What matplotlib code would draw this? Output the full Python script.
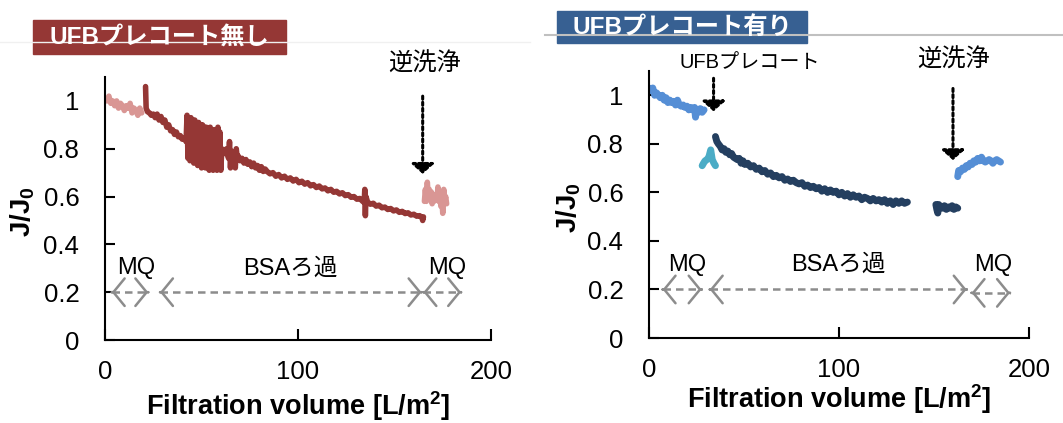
import matplotlib
matplotlib.use("Agg")
import matplotlib.pyplot as plt
from matplotlib.patches import Rectangle
from matplotlib.lines import Line2D

plt.rcParams['font.family'] = ['Liberation Sans', 'Noto Sans CJK JP']
plt.rcParams['mathtext.fontset'] = 'custom'
plt.rcParams['mathtext.rm'] = 'Liberation Sans'
plt.rcParams['mathtext.bf'] = 'Liberation Sans:bold'

# ---- data: left panel (no UFB precoat) ----
L_mq1_x = [0, 1, 2, 3, 4, 5, 6, 7, 8, 9, 10, 11, 12, 13, 14, 15, 16, 17, 18, 19]
L_mq1_y = [1.01, 1.00, 1.02, 0.99, 1.00, 0.98, 1.00, 0.97, 0.99, 0.98,
           0.96, 0.98, 0.97, 0.99, 0.95, 0.97, 0.96, 0.94, 0.97, 0.95]

L_bsa_x = [21.0, 21.3, 22, 23, 24, 25, 26, 27, 28, 29, 30, 31, 32, 33, 34, 35, 36, 37, 38, 39, 40, 41, 42,
           42.5, 43, 43.5, 44, 44.5, 45, 45.5, 46, 46.5, 47, 47.5, 48, 48.5, 49, 49.5, 50, 50.5, 51,
           51.5, 52, 52.5, 53, 53.5, 54, 54.5, 55, 55.5, 56, 56.5, 57, 57.5, 58, 58.5, 59, 59.5, 60, 60.5,
           61, 62, 63, 64, 64.5, 65, 65.5, 66, 67, 67.5, 68, 68.5, 69, 70, 71, 72, 73, 74, 75, 76, 77, 78,
           79, 80, 81, 82, 83,
           84, 85.5, 87, 88.5, 90, 91.5, 93, 94.5, 96, 97.5, 99, 100.5, 102, 103.5, 105, 106.5, 108,
           109.5, 111, 112.5, 114, 115.5, 117, 118.5, 120, 121.5, 123, 124.5, 126, 127.5, 129, 130.5,
           132, 133.5, 134.3, 134.6, 134.9, 135.2,
           136, 137.5, 139, 140.5, 142, 143.5, 145, 146.5, 148, 149.5, 151, 152.5, 154, 155.5, 157,
           158.5, 160, 161.5, 163, 164.3, 164.6, 165]
L_bsa_y = [1.06, 0.97, 0.955, 0.95, 0.94, 0.945, 0.93, 0.945, 0.92, 0.935, 0.91, 0.92, 0.89, 0.90, 0.875,
           0.88, 0.86, 0.87, 0.85, 0.855, 0.84, 0.845, 0.83,
           0.94, 0.76, 0.93, 0.75, 0.93, 0.77, 0.92, 0.74, 0.92, 0.76, 0.91, 0.73, 0.91, 0.75, 0.90, 0.72,
           0.90, 0.74, 0.89, 0.72, 0.89, 0.73, 0.88, 0.71, 0.89, 0.73, 0.87, 0.71, 0.88, 0.72, 0.86, 0.71,
           0.89, 0.72, 0.87, 0.71, 0.80,
           0.79, 0.78, 0.80, 0.76, 0.83, 0.72, 0.79, 0.77, 0.78, 0.72, 0.80, 0.76, 0.77, 0.75, 0.76, 0.74,
           0.755, 0.735, 0.745, 0.725, 0.74, 0.72, 0.73, 0.71, 0.725, 0.705, 0.715,
           0.705, 0.695, 0.70, 0.685, 0.692, 0.678, 0.685, 0.672, 0.678, 0.665, 0.672, 0.658, 0.664,
           0.652, 0.658, 0.645, 0.65, 0.638, 0.644, 0.632, 0.636, 0.624, 0.63, 0.618, 0.622, 0.611,
           0.616, 0.604, 0.608, 0.597, 0.60, 0.589, 0.592, 0.58, 0.575, 0.63, 0.52, 0.60,
           0.578, 0.568, 0.572, 0.56, 0.564, 0.553, 0.556, 0.546, 0.55, 0.54, 0.544, 0.534, 0.538,
           0.529, 0.532, 0.523, 0.526, 0.518, 0.52, 0.512, 0.50, 0.515]

L_mq2_x = [165.5, 166, 166.5, 167, 167.5, 168, 168.5, 169, 169.5, 170, 170.5, 171, 172, 172.5, 173,
           173.5, 174, 174.5, 175, 175.5, 176, 176.5, 177]
L_mq2_y = [0.58, 0.63, 0.58, 0.66, 0.60, 0.63, 0.59, 0.62, 0.57, 0.61, 0.58, 0.60, 0.585, 0.64, 0.58,
           0.62, 0.56, 0.60, 0.53, 0.63, 0.58, 0.60, 0.57]

# ---- data: right panel (with UFB precoat) ----
R_mq1_x = [0, 1, 2, 3, 4, 5, 6, 7, 8, 9, 10, 11, 12, 13, 14, 15, 16, 17, 18, 19, 20, 21, 22, 23, 24,
           24.5, 25, 26, 27, 28, 29]
R_mq1_y = [1.03, 1.02, 1.03, 1.00, 1.01, 1.00, 0.99, 1.00, 0.98, 0.99, 0.97, 0.98, 0.97, 0.975, 0.96,
           0.98, 0.96, 0.955, 0.96, 0.95, 0.955, 0.94, 0.95, 0.94, 0.95, 0.91, 0.94, 0.93, 0.945, 0.93, 0.94]

R_ufb_x = [28, 28.7, 29.5, 30.5, 31.5, 32.5, 33.3, 34.2, 35]
R_ufb_y = [0.71, 0.72, 0.73, 0.735, 0.745, 0.775, 0.735, 0.72, 0.71]

R_bsa1_x = [35, 35.7, 36.5, 37.5, 38.5, 39.5, 40.5, 41.5, 42.5, 43.5, 44.5, 45.5, 46.5, 47.5, 48.5, 49.5,
            50.5, 52, 53.5, 55, 56.5, 58, 59.5, 61, 62.5, 64, 65.5, 67, 68.5, 70, 71.5, 73, 74.5, 76,
            77.5, 79, 80.5, 82, 83.5, 85, 86.5, 88, 89.5, 91, 92.5, 94, 95.5, 97, 98.5, 100, 101.5, 103,
            104.5, 106, 107.5, 109, 110.5, 112, 113.5, 115, 116.5, 118, 119.5, 121, 122.5, 124, 125.5,
            127, 128.5, 130, 131.5, 133, 134.5, 136]
R_bsa1_y = [0.83, 0.81, 0.80, 0.79, 0.775, 0.78, 0.765, 0.77, 0.755, 0.76, 0.745, 0.74, 0.735, 0.74,
            0.72, 0.73, 0.715, 0.72, 0.705, 0.71, 0.695, 0.70, 0.685, 0.69, 0.675, 0.68, 0.665, 0.67,
            0.66, 0.665, 0.65, 0.655, 0.645, 0.65, 0.64, 0.635, 0.64, 0.625, 0.63, 0.62, 0.625, 0.615,
            0.62, 0.605, 0.615, 0.60, 0.61, 0.60, 0.605, 0.59, 0.60, 0.585, 0.595, 0.58, 0.59, 0.58,
            0.585, 0.57, 0.58, 0.575, 0.565, 0.575, 0.565, 0.57, 0.56, 0.57, 0.555, 0.565, 0.55, 0.565,
            0.555, 0.565, 0.555, 0.56]

R_bsa2_x = [151, 151.5, 152, 152.5, 153.5, 154.5, 155.5, 156.5, 157.5, 158.5, 159.5, 160.5, 161.5, 162.5]
R_bsa2_y = [0.55, 0.53, 0.515, 0.55, 0.54, 0.535, 0.545, 0.53, 0.54, 0.535, 0.545, 0.53, 0.54, 0.535]

R_mq2_x = [162.5, 163, 164, 165, 166, 167, 168, 169, 170, 171, 172, 173, 174, 175, 176, 177, 178, 179,
           180, 181, 182, 183, 184, 185]
R_mq2_y = [0.665, 0.69, 0.685, 0.70, 0.695, 0.71, 0.705, 0.72, 0.715, 0.73, 0.725, 0.74, 0.73, 0.745,
           0.73, 0.725, 0.73, 0.735, 0.73, 0.72, 0.73, 0.735, 0.73, 0.725]

# annotations: (x, y_start, y_tip)
L_wash = (164.6, 1.02, 0.695)
R_precoat = (34, 1.07, 0.934)
R_wash = (160, 1.028, 0.733)
# phase ranges (x0, x1, y)
L_phases = [(3.5, 22.4, 0.2), (28.5, 164, 0.2), (165, 184.5, 0.2)]
R_phases = [(7.2, 27.7, 0.2), (32, 167.2, 0.2), (169.8, 190, 0.186)]
L_phase_labels = [("MQ", 16, 0.30), ("BSAろ過", 96, 0.30), ("MQ", 177.5, 0.30)]
R_phase_labels = [("MQ", 20, 0.30), ("BSAろ過", 99.6, 0.30), ("MQ", 181, 0.30)]

red = '#953735'
pink = '#D99694'
lblue = '#558ED5'
teal = '#4BACC6'
navy = '#243F60'
gray = '#8C8C8C'

fig = plt.figure(figsize=(10.63, 4.23), dpi=100)
axL = fig.add_axes([0.0988, 0.1962, 0.3631, 0.6217])
axR = fig.add_axes([0.6105, 0.2009, 0.3575, 0.6312])


def style_axes(ax):
    ax.set_xlim(0, 200)
    ax.set_ylim(0, 1.1)
    ax.set_xticks([0, 100, 200])
    ax.set_yticks([0, 0.2, 0.4, 0.6, 0.8, 1.0])
    ax.set_yticklabels(['0', '0.2', '0.4', '0.6', '0.8', '1'])
    for s in ['top', 'right']:
        ax.spines[s].set_visible(False)
    for s in ['left', 'bottom']:
        ax.spines[s].set_linewidth(1.5)
    ax.tick_params(axis='x', direction='in', length=8, width=1.5, pad=14.5, labelsize=18.5)
    ax.tick_params(axis='y', direction='in', length=7, width=1.5, pad=18.5, labelsize=18.5)


def wash_arrow(ax, pos):
    x, y0, y1 = pos
    ax.annotate('', xy=(x, y1), xytext=(x, y0),
                arrowprops=dict(arrowstyle='-|>, head_length=0.3, head_width=0.34',
                                ls=(0, (1, 1)), lw=2.2, color='black',
                                mutation_scale=20, shrinkA=0, shrinkB=0))


def phase_arrow(ax, ph):
    x0, x1, y = ph
    ax.plot([x0, x1], [y, y], ls=(0, (3, 2)), lw=1.8, color=gray)
    for a, b in [(x0, x0 + 0.01), (x1, x1 - 0.01)]:
        ax.annotate('', xy=(a, y), xytext=(b, y),
                    arrowprops=dict(arrowstyle='->, head_length=0.45, head_width=0.55',
                                    lw=1.8, color=gray, mutation_scale=18,
                                    shrinkA=0, shrinkB=0))


for ax in (axL, axR):
    style_axes(ax)

kw = dict(solid_capstyle='round', solid_joinstyle='round')
axL.plot(L_mq1_x, L_mq1_y, color=pink, lw=4, **kw)
axL.plot(L_bsa_x, L_bsa_y, color=red, lw=4, **kw)
axL.plot(L_mq2_x, L_mq2_y, color=pink, lw=4, **kw)

axR.plot(R_mq1_x, R_mq1_y, color=lblue, lw=5, **kw)
axR.plot(R_ufb_x, R_ufb_y, color=teal, lw=5, **kw)
axR.plot(R_bsa1_x, R_bsa1_y, color=navy, lw=5, **kw)
axR.plot(R_bsa2_x, R_bsa2_y, color=navy, lw=5, **kw)
axR.plot(R_mq2_x, R_mq2_y, color=lblue, lw=5, **kw)

wash_arrow(axL, L_wash)
wash_arrow(axR, R_precoat)
wash_arrow(axR, R_wash)
axL.text(165.8, 1.154, '逆洗浄', fontsize=17.5, ha='center', va='center')
axR.text(160.5, 1.147, '逆洗浄', fontsize=17.5, ha='center', va='center')
axR.text(53, 1.137, 'UFBプレコート', fontsize=14.5, ha='center', va='center')

for ax, phases, labels in [(axL, L_phases, L_phase_labels), (axR, R_phases, R_phase_labels)]:
    for ph in phases:
        phase_arrow(ax, ph)
    for t, x, y in labels:
        ax.text(x, y, t, fontsize=17, ha='center', va='center')

for ax, xy, yy in [(axL, -0.2852, -0.2124), (axR, -0.2622, -0.2105)]:
    ax.text(0.5, xy, 'Filtration volume [L/m$^\\mathbf{2}$]', transform=ax.transAxes,
            ha='center', va='baseline', fontsize=19.5, fontweight='bold')
    ax.text(yy, 0.49, r'$\mathbf{J/J_0}$', transform=ax.transAxes, rotation=90,
            ha='center', va='center', fontsize=20)

# header lines and title boxes
fig.add_artist(Line2D([0.0, 0.4986], [1 - 41.7 / 423] * 2, color='#f0f0f0', lw=1))
fig.add_artist(Line2D([545 / 1063, 1.0], [1 - 35 / 423] * 2, color='#C0C0C0', lw=1.5))
fig.add_artist(Rectangle((33 / 1063, 369 / 423), 253 / 1063, 34 / 423,
                         transform=fig.transFigure, color=red))
fig.add_artist(Rectangle((557 / 1063, 380 / 423), 250 / 1063, 32 / 423,
                         transform=fig.transFigure, color='#376092'))
fig.text(159.5 / 1063, 1 - 37 / 423, 'UFBプレコート無し', color='white', fontsize=17.5,
         fontweight='bold', ha='center', va='center')
fig.text(682 / 1063, 1 - 27 / 423, 'UFBプレコート有り', color='white', fontsize=17.5,
         fontweight='bold', ha='center', va='center')

fig.savefig('out.png', dpi=100)
